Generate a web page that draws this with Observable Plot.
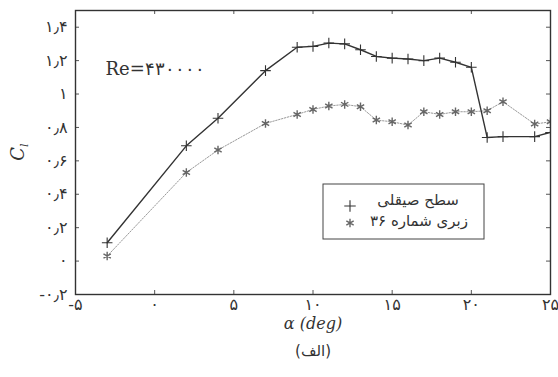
<!DOCTYPE html>
<html><head><meta charset="utf-8">
<script src="https://cdn.jsdelivr.net/npm/d3@7"></script>
<script src="https://cdn.jsdelivr.net/npm/@observablehq/plot@0.6"></script>
<style>body{margin:0;background:#fff}</style>
</head><body><div id="chart"></div>
<script>
// Data
const alphaSmooth = [-3, 2, 4, 7, 9, 10, 11, 12, 13, 14, 15, 16, 17, 18, 19, 20, 21, 22, 24, 25];
const clSmooth    = [0.11, 0.69, 0.855, 1.14, 1.28, 1.285, 1.305, 1.30, 1.265, 1.225, 1.215, 1.21, 1.20, 1.215, 1.19, 1.16, 0.74, 0.745, 0.745, 0.77];
const alphaRough  = [-3, 2, 4, 7, 9, 10, 11, 12, 13, 14, 15, 16, 17, 18, 19, 20, 21, 22, 24, 25];
const clRough     = [0.03, 0.53, 0.665, 0.824, 0.878, 0.908, 0.928, 0.938, 0.924, 0.844, 0.834, 0.814, 0.894, 0.878, 0.894, 0.894, 0.90, 0.954, 0.82, 0.834];
const seriesNames = ["سطح صیقلی", "زبری شماره ۳۶"];
const xTicks = [-5, 0, 5, 10, 15, 20, 25];
const xTickLabels = ["-۵", "۰", "۵", "۱۰", "۱۵", "۲۰", "۲۵"];
const yTicks = [-0.2, 0, 0.2, 0.4, 0.6, 0.8, 1, 1.2, 1.4];
const yTickLabels = ["-۰٫۲", "۰", "۰٫۲", "۰٫۴", "۰٫۶", "۰٫۸", "۱", "۱٫۲", "۱٫۴"];
const reLabel = "Re=۴۳۰۰۰۰";
const caption = "(الف)";

const smooth = alphaSmooth.map((a, i) => ({a, cl: clSmooth[i]}));
const rough = alphaRough.map((a, i) => ({a, cl: clRough[i]}));

const W = 558, H = 377, mL = 75, mR = 8, mT = 10, mB = 83;
const fw = W - mL - mR, fh = H - mT - mB;
const tk = 4;

const chart = Plot.plot({
  width: W, height: H,
  marginLeft: mL, marginRight: mR, marginTop: mT, marginBottom: mB,
  style: {fontFamily: "DejaVu Sans", background: "#fff", color: "#333"},
  x: {domain: [-5, 25]},
  y: {domain: [-0.2, 1.5]},
  marks: [
    Plot.axisX({ticks: xTicks, tickFormat: d => xTickLabels[xTicks.indexOf(d)], tickSize: 0, tickPadding: 4, fontSize: 16, label: null}),
    Plot.axisY({ticks: yTicks, tickFormat: d => yTickLabels[yTicks.indexOf(d)], tickSize: 0, tickPadding: 8, fontSize: 16, label: null}),
    Plot.ruleX(xTicks, {x: d => d, insetBottom: fh - tk, stroke: "#555"}),
    Plot.ruleX(xTicks, {x: d => d, insetTop: fh - tk, stroke: "#555"}),
    Plot.ruleY(yTicks, {y: d => d, insetRight: fw - tk, stroke: "#555"}),
    Plot.ruleY(yTicks, {y: d => d, insetLeft: fw - tk, stroke: "#555"}),
    Plot.line(rough, {x: "a", y: "cl", stroke: "#999", strokeWidth: 1, strokeDasharray: "1.5,1.5", clip: true}),
    Plot.dot(rough, {x: "a", y: "cl", symbol: "asterisk", r: 4, stroke: "#666", strokeWidth: 1.4, clip: true}),
    Plot.line(smooth, {x: "a", y: "cl", stroke: "#333", strokeWidth: 1.4, clip: true}),
    Plot.dot(smooth, {x: "a", y: "cl", symbol: "plus", r: 3.5, stroke: "#333", strokeWidth: 1.1, clip: true}),
    Plot.frame({stroke: "#333", strokeWidth: 1.4}),
    Plot.text([reLabel], {text: d => d, frameAnchor: "top-left", dx: 30, dy: 52, textAnchor: "start", fontSize: 18, fontFamily: "DejaVu Serif", fill: "#333"}),
    Plot.text(["α (deg)"], {text: d => d, frameAnchor: "bottom", dy: 34, fontSize: 16, fontStyle: "italic", fontFamily: "DejaVu Serif", fill: "#333"}),
    Plot.text([caption], {text: d => d, frameAnchor: "bottom", dy: 61, fontSize: 15, fill: "#333"})
  ]
});
document.getElementById("chart").appendChild(chart);

const svg = d3.select(chart);
// y-axis title C_l
const yl = svg.append("text")
  .attr("transform", `translate(24,${mT + fh / 2}) rotate(-90)`)
  .attr("text-anchor", "middle")
  .attr("font-family", "DejaVu Serif").attr("font-style", "italic")
  .attr("font-size", 18).attr("fill", "#333");
yl.append("tspan").text("C");
yl.append("tspan").attr("font-size", 11).attr("dy", 4).text("l");

// legend
const lg = svg.append("g");
lg.append("rect").attr("x", 323).attr("y", 184).attr("width", 161).attr("height", 55)
  .attr("fill", "white").attr("stroke", "#444").attr("stroke-width", 1);
lg.append("path").attr("d", d3.symbol(d3.symbolPlus, 45)()).attr("transform", "translate(350,206)")
  .attr("fill", "none").attr("stroke", "#333").attr("stroke-width", 1.1);
lg.append("path").attr("d", d3.symbol(d3.symbolAsterisk, 50)()).attr("transform", "translate(350,223)")
  .attr("fill", "none").attr("stroke", "#666").attr("stroke-width", 1.4);
lg.append("text").attr("x", 418).attr("y", 200).attr("dy", "0.35em").attr("text-anchor", "middle")
  .attr("font-family", "DejaVu Sans").attr("font-size", 15).attr("fill", "#333").attr("direction", "rtl").text(seriesNames[0]);
lg.append("text").attr("x", 419).attr("y", 221).attr("dy", "0.35em").attr("text-anchor", "middle")
  .attr("font-family", "DejaVu Sans").attr("font-size", 15).attr("fill", "#333").attr("direction", "rtl").text(seriesNames[1]);
</script>
</body></html>
